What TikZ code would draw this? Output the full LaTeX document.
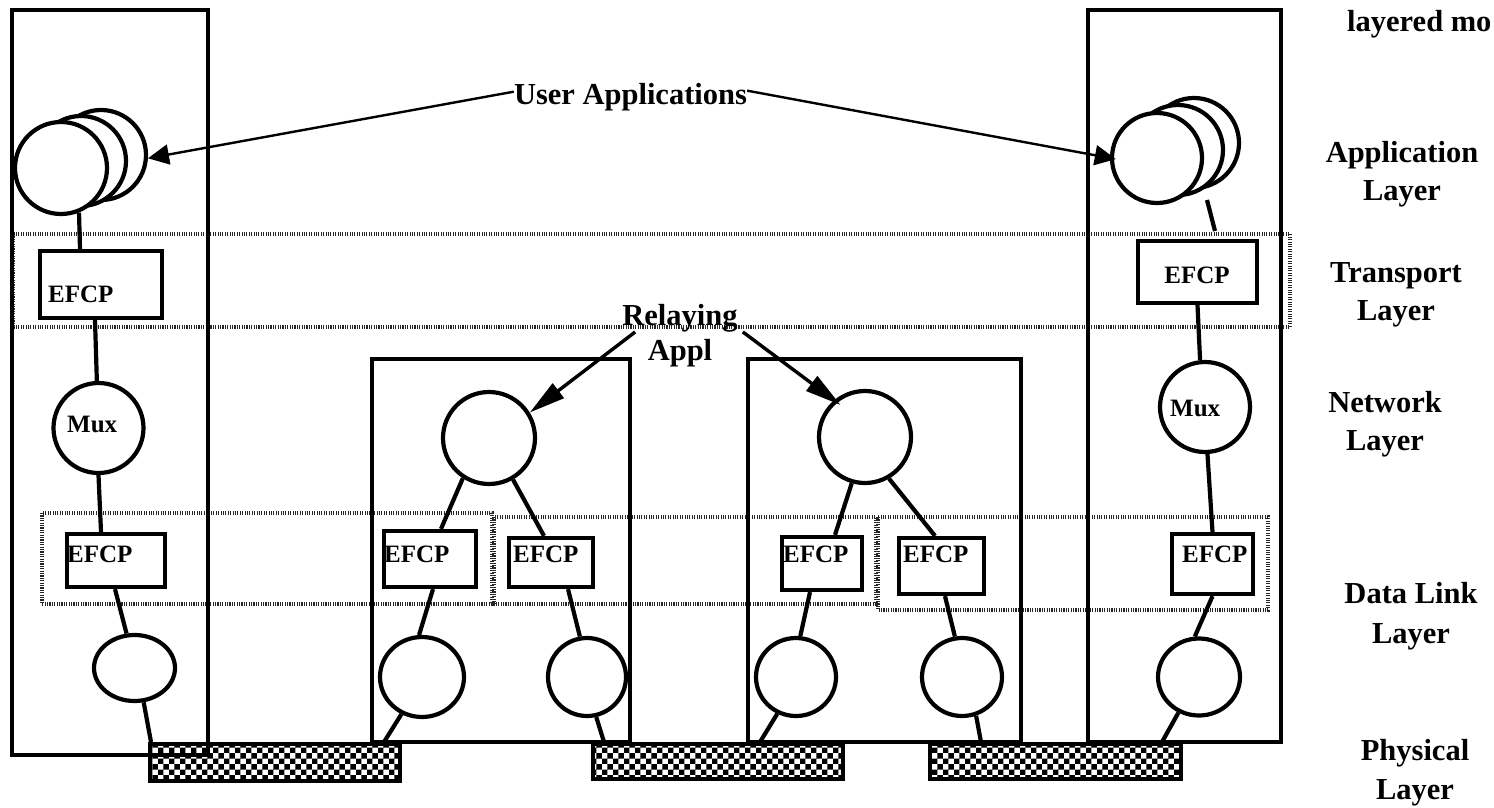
\documentclass[tikz,border=0pt]{standalone}
\usepackage{fontspec}
\setmainfont{Liberation Serif}
\usetikzlibrary{shapes.geometric,patterns,arrows.meta}
\begin{document}
\begin{tikzpicture}[x=1pt,y=-1pt,
  lbl/.style={font=\fontsize{30.5}{35}\selectfont\bfseries, inner sep=0pt, anchor=base},
  small/.style={font=\fontsize{25}{25}\selectfont\bfseries, inner sep=0pt, anchor=base west},
  frame/.style={draw, line width=4.2pt},
  hatchbox/.style={draw=black!85, line width=3.6pt, dash pattern=on 1.1pt off 1.3pt},
  phys/.style={draw, line width=4pt, pattern=checkerboard, rectangle, inner sep=0pt},
  efcpbox/.style={draw, fill=white, line width=4.2pt, rectangle, inner sep=0pt},
  circ/.style={draw, fill=white, line width=4.2pt, circle, inner sep=0pt, minimum size=90pt},
  oval/.style={draw, fill=white, line width=4.2pt, ellipse, inner sep=0pt},
  conn/.style={line width=4.2pt},
  thinarrow/.style={line width=2.4pt, -{Triangle[length=21pt,width=20pt]}},
  relayarrow/.style={line width=3.4pt, -{Triangle[length=36pt,width=18pt]}}
]
\clip (0,0) rectangle (1494,808);
\fill[white] (0,0) rectangle (1494,808);

% layer bands
\draw[hatchbox] (13,234) rectangle (1290,327);
\draw[hatchbox] (42,513) rectangle (492,604);
\draw[hatchbox] (494,517) rectangle (876,604);
\draw[hatchbox] (878,517) rectangle (1268,610);

% physical media
\node[phys, minimum width=250pt, minimum height=37pt] (bar1) at (275,762.5) {};
\node[phys, minimum width=250pt, minimum height=35pt] (bar2) at (718,761.5) {};
\node[phys, minimum width=251pt, minimum height=35pt] (bar3) at (1055.5,761.5) {};

% system frames
\draw[frame] (12,10) rectangle (208,755);
\draw[frame] (372,359) rectangle (630,742);
\draw[frame] (748,359) rectangle (1021,742);
\draw[frame] (1088,10) rectangle (1281,742);

% left host
\node[circ] (appL3) at (101,155) {};
\node[circ] (appL2) at (81,161) {};
\node[circ, minimum size=92pt] (appL1) at (61,168) {};
\node[efcpbox, minimum width=122pt, minimum height=67pt] (efcpT) at (101,284.5) {};
\node[circ] (muxL) at (98.5,428) {};
\node[efcpbox, minimum width=98pt, minimum height=53pt] (efcpL) at (116,560.5) {};
\node[oval, minimum width=81pt, minimum height=66pt] (ellL) at (134.5,668) {};

\draw[conn] (appL1.-68) -- ([xshift=-21pt]efcpT.north);
\draw[conn] ([xshift=-6pt]efcpT.south) -- (muxL.92);
\draw[conn] (muxL.south) -- ([xshift=-15pt]efcpL.north);
\draw[conn] ([xshift=-1pt]efcpL.south) -- (ellL.103);
\draw[conn] (ellL.-75) -- ([xshift=3pt]bar1.north west);

% right host
\node[circ] (appR3) at (1194,143) {};
\node[circ] (appR2) at (1178,150) {};
\node[circ] (appR1) at (1157,158) {};
\node[efcpbox, minimum width=119pt, minimum height=62pt] (efcpTR) at (1197.5,272) {};
\node[circ] (muxR) at (1205,407) {};
\node[efcpbox, minimum width=81pt, minimum height=60pt] (efcpR) at (1212.5,564) {};
\node[oval, minimum width=82pt, minimum height=77pt] (ellR) at (1199,677) {};

\coordinate (rA) at (1207,200);
\coordinate (rB) at (1215,231);
\draw[conn] (rA) -- (rB);
\draw[conn] (efcpTR.south) -- (muxR.96);
\draw[conn] (muxR.-87) -- (efcpR.north);
\draw[conn] (efcpR.south) -- (ellR.96);
\draw[conn] (ellR.-120) -- ([xshift=234pt]bar3.north west);

% relay 1
\node[circ, minimum size=92pt] (relL) at (489,438) {};
\node[efcpbox, minimum width=92pt, minimum height=56pt] (efcp1a) at (430,559) {};
\node[efcpbox, minimum width=84pt, minimum height=49pt] (efcp1b) at (551,562.5) {};
\node[oval, minimum width=84pt, minimum height=80pt] (ell1a) at (422,677) {};
\node[oval, minimum width=78pt, minimum height=78pt] (ell1b) at (587,677) {};

\draw[conn] (relL.-123) -- ([xshift=11pt]efcp1a.north);
\draw[conn] (relL.-60) -- ([xshift=-7pt]efcp1b.north);
\draw[conn] ([xshift=3pt]efcp1a.south) -- (ell1a.94);
\draw[conn] (ell1a.-119) -- ([xshift=236pt]bar1.north west);
\draw[conn] ([xshift=17pt]efcp1b.south) -- (ell1b.100);
\draw[conn] (ell1b.-77) -- ([xshift=13pt]bar2.north west);

% relay 2
\node[circ, minimum size=92pt] (relR) at (865,437) {};
\node[efcpbox, minimum width=80pt, minimum height=53pt] (efcp2a) at (822,563.5) {};
\node[efcpbox, minimum width=85pt, minimum height=56pt] (efcp2b) at (941.5,566) {};
\node[oval, minimum width=80pt, minimum height=78pt] (ell2a) at (796,677) {};
\node[oval, minimum width=80pt, minimum height=78pt] (ell2b) at (962,677) {};

\draw[conn] (relR.-106) -- ([xshift=13pt]efcp2a.north);
\draw[conn] (relR.-60) -- ([xshift=-6.5pt]efcp2b.north);
\draw[conn] ([xshift=-12pt]efcp2a.south) -- (ell2a.84);
\draw[conn] (ell2a.-117) -- ([xshift=169pt]bar2.north west);
\draw[conn] ([xshift=3.5pt]efcp2b.south) -- (ell2b.100);
\draw[conn] (ell2b.-70) -- ([xshift=53pt]bar3.north west);

% box texts
\node[small] at (48,302) {EFCP};
\node[small, anchor=base] at (1197,283) {EFCP};
\node[small] at (67,562) {EFCP};
\node[small] at (384,562) {EFCP};
\node[small] at (513,562) {EFCP};
\node[small] at (783,562) {EFCP};
\node[small] at (903,562) {EFCP};
\node[small] at (1182,562) {EFCP};
\node[small] at (67,432) {Mux};
\node[small] at (1170,416) {Mux};

% user applications
\node[lbl] (ua) at (630.5,104) {User Applications};
\draw[thinarrow] ([yshift=5pt]ua.west) -- (appL3.-4);
\draw[thinarrow, shorten >=-6pt] ([yshift=6pt]ua.east) -- (appR1.west);

% relaying appl
\node[lbl] (rel) at (680,325) {Relaying};
\node[lbl] (appl) at (680,360) {Appl};
\draw[relayarrow] ([xshift=13pt]rel.south west) -- (relL.32);
\draw[relayarrow, shorten >=-8pt] ([xshift=5pt]rel.south east) -- (relR.130);

% layer labels
\node[lbl, anchor=base west] (lm) at (1347,32) {layered mo};
\node[lbl] (l1a) at (1402,162) {Application};
\node[lbl] (l1b) at (1402,200) {Layer};
\node[lbl] (l2a) at (1396,282) {Transport};
\node[lbl] (l2b) at (1396,320) {Layer};
\node[lbl] (l3a) at (1385,412) {Network};
\node[lbl] (l3b) at (1385,450) {Layer};
\node[lbl] (l4a) at (1411,603) {Data Link};
\node[lbl] (l4b) at (1411,643) {Layer};
\node[lbl] (l5a) at (1415,760) {Physical};
\node[lbl] (l5b) at (1415,799) {Layer};
\end{tikzpicture}
\end{document}
